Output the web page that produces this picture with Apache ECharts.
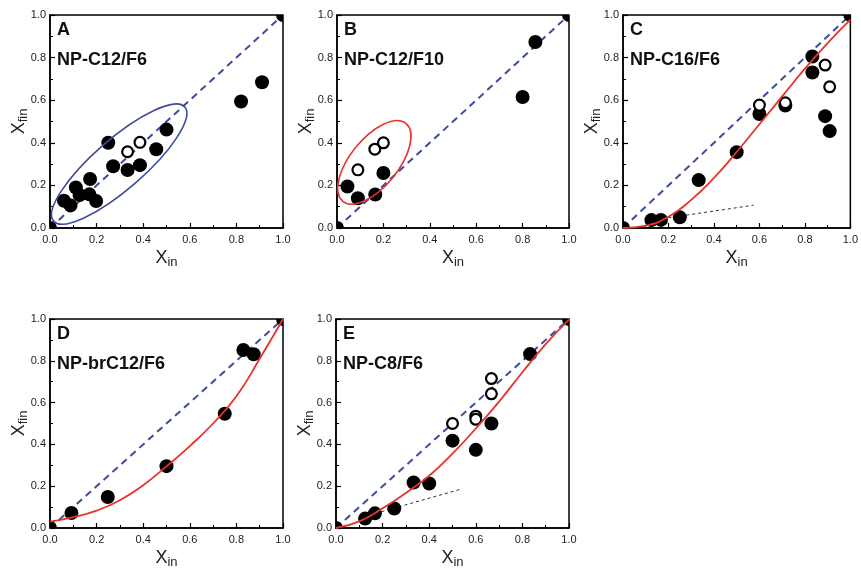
<!DOCTYPE html>
<html>
<head>
<meta charset="utf-8">
<script src="https://cdn.jsdelivr.net/npm/echarts@6/dist/echarts.min.js"></script>
<style>
html,body{margin:0;padding:0;background:#fff;}
#chart{width:861px;height:570px;}
</style>
</head>
<body>
<div id="chart"></div>
<script>
// ---- data ----
const panelLetters = ['A', 'B', 'C', 'D', 'E'];
const panelNames = ['NP-C12/F6', 'NP-C12/F10', 'NP-C16/F6', 'NP-brC12/F6', 'NP-C8/F6'];
const tickValues = [0, 0.2, 0.4, 0.6, 0.8, 1.0];
const diagonal = [[0, 0], [1, 1]];

const filledA = [[0,0],[0.06,0.128],[0.088,0.106],[0.111,0.19],[0.127,0.155],[0.169,0.158],[0.172,0.23],[0.198,0.127],[0.25,0.40],[0.271,0.29],[0.333,0.272],[0.386,0.295],[0.456,0.37],[0.5,0.462],[0.82,0.594],[0.91,0.684],[1,1]];
const openA = [[0.333,0.358],[0.386,0.402]];

const filledB = [[0,0],[0.045,0.195],[0.09,0.14],[0.165,0.157],[0.2,0.258],[0.8,0.615],[0.855,0.873],[1,1]];
const openB = [[0.09,0.273],[0.163,0.37],[0.2,0.4]];

const filledC = [[0,0],[0.125,0.037],[0.167,0.038],[0.25,0.05],[0.333,0.225],[0.5,0.356],[0.6,0.535],[0.714,0.575],[0.833,0.805],[0.833,0.73],[0.889,0.525],[0.909,0.455],[1,1]];
const openC = [[0.6,0.577],[0.714,0.588],[0.889,0.765],[0.909,0.663]];
const fitC = [[0,0],[0.1,0.011],[0.2,0.053],[0.3,0.132],[0.4,0.235],[0.5,0.357],[0.6,0.487],[0.7,0.618],[0.8,0.748],[0.9,0.868],[1,0.978]];
const guideC = [[0.2,0.048],[0.574,0.107]];

const filledD = [[0,0],[0.092,0.072],[0.248,0.148],[0.5,0.296],[0.75,0.547],[0.83,0.852],[0.874,0.831],[1,1]];
const fitD = [[0,0.03],[0.1,0.052],[0.2,0.083],[0.3,0.133],[0.4,0.205],[0.5,0.295],[0.6,0.392],[0.7,0.5],[0.8,0.63],[0.9,0.81],[1,1]];

const filledE = [[0,0],[0.125,0.045],[0.167,0.07],[0.25,0.093],[0.333,0.218],[0.4,0.213],[0.5,0.418],[0.6,0.374],[0.667,0.5],[0.833,0.832],[1,1]];
const openE = [[0.5,0.5],[0.6,0.535],[0.6,0.52],[0.667,0.642],[0.667,0.715]];
const fitE = [[0,0],[0.1,0.032],[0.2,0.094],[0.3,0.168],[0.4,0.25],[0.5,0.356],[0.6,0.476],[0.7,0.605],[0.8,0.745],[0.9,0.88],[1,0.997]];
const guideE = [[0.17,0.07],[0.54,0.187]];

// ellipse annotations: [centerX, centerY, semiMajor, semiMinor (x-data units), angle deg]
const ellipseA = [0.297, 0.30, 0.373, 0.107, 41];
const ellipseB = [0.161, 0.308, 0.216, 0.103, 51];

// ---- layout / style ----
const grids = [
  {left: 50, top: 15, width: 233, height: 213},
  {left: 337, top: 15, width: 232, height: 213},
  {left: 623, top: 15, width: 233, height: 213},
  {left: 50, top: 319, width: 233, height: 213},
  {left: 336, top: 319, width: 233, height: 213}
];
const BLUE = '#3c4c9c';
const RED = '#e8332c';
const FONT = 'Liberation Sans, Arial, sans-serif';

const richName = {
  x: {fontSize: 18, fontFamily: FONT, color: '#222'},
  s: {fontSize: 13, fontFamily: FONT, color: '#222', padding: [9, 0, 0, 0]}
};

function axisCommon(gi) {
  return {
    type: 'value', gridIndex: gi, min: 0, max: 1, interval: 0.2,
    axisLine: {show: true, onZero: false, lineStyle: {color: '#000', width: 1.5}},
    axisTick: {show: true, inside: true, length: 5, lineStyle: {color: '#000', width: 1.2}},
    minorTick: {show: true, splitNumber: 2, length: 3, lineStyle: {color: '#000', width: 1}},
    splitLine: {show: false},
    nameMoveOverlap: false,
    axisLabel: {
      fontSize: 11, fontFamily: FONT, color: '#222',
      formatter: v => tickValues.some(t => Math.abs(t - v) < 1e-9) ? v.toFixed(1) : ''
    }
  };
}

const xAxes = [], yAxes = [], series = [], titles = [];
grids.forEach((g, i) => {
  xAxes.push(Object.assign(axisCommon(i), {
    name: '{x|X}{s|in}', nameLocation: 'middle', nameGap: 19,
    nameTextStyle: {rich: richName}
  }));
  xAxes[i].axisLabel.margin = 6;
  yAxes.push(Object.assign(axisCommon(i), {
    name: '{x|X}{s|fin}', nameLocation: 'middle', nameGap: 20, nameRotate: 90,
    nameTextStyle: {rich: richName}
  }));
  yAxes[i].axisLabel.margin = 4;
  titles.push({
    text: panelLetters[i] + '\n' + panelNames[i],
    left: g.left + 7, top: g.top, padding: 0,
    textStyle: {fontSize: 18, fontWeight: 'bold', fontFamily: FONT, color: '#111', lineHeight: 30}
  });
});

function diag(i) {
  return {type: 'line', xAxisIndex: i, yAxisIndex: i, data: diagonal, symbol: 'none', z: 2,
    lineStyle: {color: BLUE, width: 2, type: [7, 5]}, silent: true};
}
function filled(i, d) {
  return {type: 'custom', xAxisIndex: i, yAxisIndex: i, data: d, clip: true, z: 3, silent: true,
    renderItem: (params, api) => {
      const c = api.coord([api.value(0), api.value(1)]);
      return {type: 'circle', shape: {cx: c[0], cy: c[1], r: 7}, style: {fill: '#000'}};
    }};
}
function open(i, d) {
  return {type: 'custom', xAxisIndex: i, yAxisIndex: i, data: d, clip: true, z: 4, silent: true,
    renderItem: (params, api) => {
      const c = api.coord([api.value(0), api.value(1)]);
      return {type: 'circle', shape: {cx: c[0], cy: c[1], r: 5.4}, style: {fill: '#fff', stroke: '#000', lineWidth: 2.2}};
    }};
}
function fit(i, d) {
  return {type: 'line', xAxisIndex: i, yAxisIndex: i, data: d, symbol: 'none', smooth: true, clip: true, z: 5,
    lineStyle: {color: RED, width: 1.8}};
}
function guide(i, d) {
  return {type: 'line', xAxisIndex: i, yAxisIndex: i, data: d, symbol: 'none', z: 2,
    lineStyle: {color: '#333', width: 1, type: [3, 3]}};
}
function ellipse(i, e, color) {
  return {type: 'custom', xAxisIndex: i, yAxisIndex: i, data: [e], z: 6, silent: true,
    renderItem: (params, api) => {
      const c = api.coord([api.value(0), api.value(1)]);
      const s = api.size([1, 1]);
      return {
        type: 'ellipse', x: c[0], y: c[1], rotation: api.value(4) * Math.PI / 180,
        shape: {cx: 0, cy: 0, rx: api.value(2) * s[0], ry: api.value(3) * s[0]},
        style: {fill: null, stroke: color, lineWidth: 1.6}
      };
    }};
}

series.push(diag(0), filled(0, filledA), open(0, openA), ellipse(0, ellipseA, BLUE));
series.push(diag(1), filled(1, filledB), open(1, openB), ellipse(1, ellipseB, RED));
series.push(diag(2), guide(2, guideC), filled(2, filledC), open(2, openC), fit(2, fitC));
series.push(diag(3), filled(3, filledD), fit(3, fitD));
series.push(diag(4), guide(4, guideE), filled(4, filledE), open(4, openE), fit(4, fitE));

const chart = echarts.init(document.getElementById('chart'), null, {renderer: 'canvas'});
chart.setOption({
  animation: false,
  backgroundColor: '#fff',
  title: titles,
  grid: grids.map(g => Object.assign({show: true, borderColor: '#000', borderWidth: 1.5, backgroundColor: 'transparent'}, g)),
  xAxis: xAxes,
  yAxis: yAxes,
  series: series
});
</script>
</body>
</html>
